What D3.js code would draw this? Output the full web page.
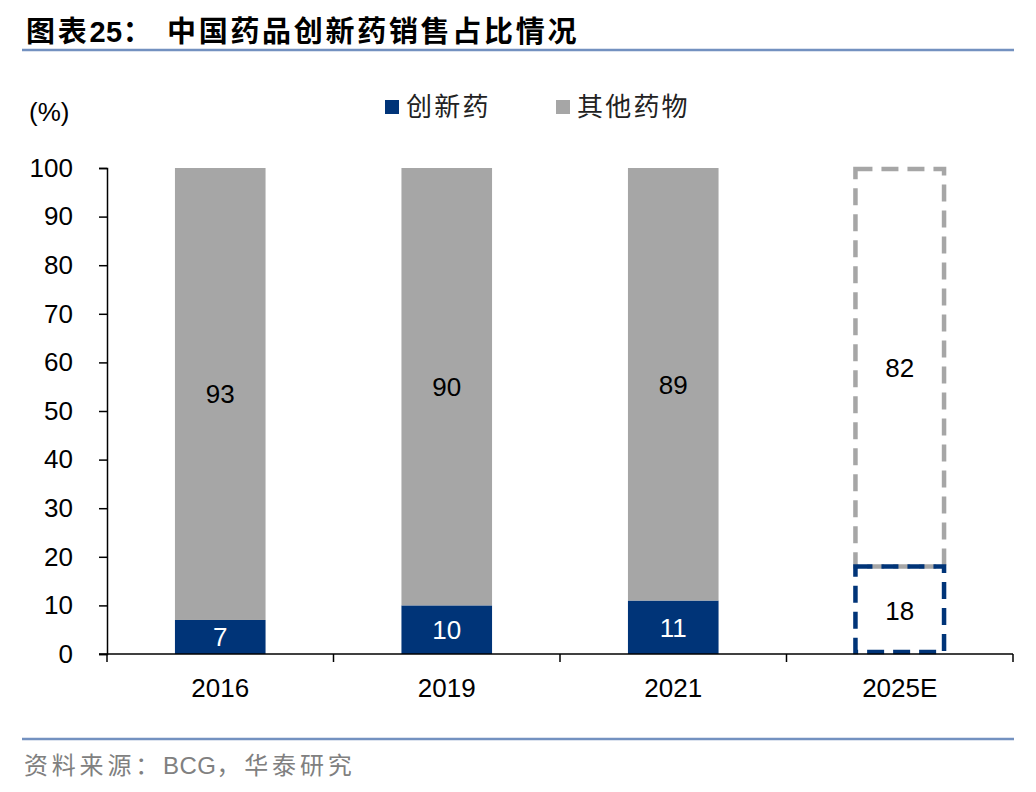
<!DOCTYPE html>
<html><head><meta charset="utf-8">
<script src="https://cdn.jsdelivr.net/npm/d3@7"></script>
<style>body{margin:0;background:#fff}svg{display:block}</style>
</head><body>
<svg id="c" width="1036" height="792"></svg>
<script>
const categories = ["2016", "2019", "2021", "2025E"];
const innovative = [7, 10, 11, 18];
const others = [93, 90, 89, 82];
const estimated = [false, false, false, true];
const yTicks = [0, 10, 20, 30, 40, 50, 60, 70, 80, 90, 100];
const seriesNames = ["创新药", "其他药物"];
const colors = ["#003478", "#a6a6a6"];

(function () {
const svg = d3.select("#c");
const pL = 107, pR = 1013, pT = 168, pB = 654;
const x = d3.scaleBand().domain(categories).range([pL, pR]).paddingInner(0.6).paddingOuter(0.3);
const xb = d3.scaleBand().domain(categories).range([pL, pR]);
const y = d3.scaleLinear().domain([0, 100]).range([pB, pT]);
const sans = "'Liberation Sans', Arial, sans-serif";
const cjk = "'Noto Sans CJK SC', sans-serif";
const fs = 26;

// title
const t = svg.append("text").attr("y", 42).attr("font-family", cjk).attr("font-weight", "bold")
  .attr("font-size", 29).attr("fill", "#000").attr("letter-spacing", 2.7);
t.append("tspan").attr("x", 26).text("图表");
t.append("tspan").attr("font-family", sans).attr("letter-spacing", 0.5).text("25");
t.append("tspan").text("：");
t.append("tspan").attr("x", 167).text("中国药品创新药销售占比情况");
svg.append("line").attr("x1", 22).attr("x2", 1014).attr("y1", 50).attr("y2", 50).attr("stroke", "#7391c0").attr("stroke-width", 2.5);

// unit
svg.append("text").attr("x", 29).attr("y", 121).attr("font-family", sans).attr("font-size", fs).text("(%)");

// legend
const lg = svg.append("g");
const lx = [385, 556];
seriesNames.forEach((n, i) => {
  lg.append("rect").attr("x", lx[i]).attr("y", 100).attr("width", 14).attr("height", 14).attr("fill", colors[i]);
  lg.append("text").attr("x", lx[i] + 21).attr("y", 116).attr("font-family", cjk).attr("font-size", 26)
    .attr("letter-spacing", 2.2).attr("fill", "#222").text(n);
});

// bars
const data = categories.map((c, i) => ({c, a: innovative[i], b: others[i], est: estimated[i]}));
const g = svg.append("g");
data.forEach(d => {
  const bx = x(d.c), bw = x.bandwidth();
  if (!d.est) {
    g.append("rect").attr("x", bx).attr("width", bw).attr("y", y(d.a)).attr("height", y(0) - y(d.a)).attr("fill", colors[0]);
    g.append("rect").attr("x", bx).attr("width", bw).attr("y", y(d.a + d.b)).attr("height", y(d.a) - y(d.a + d.b)).attr("fill", colors[1]);
  } else {
    g.append("rect").attr("x", bx + 1).attr("width", bw - 2).attr("y", y(d.a + d.b) + 1).attr("height", y(d.a) - y(d.a + d.b) - 1)
      .attr("fill", "none").attr("stroke", colors[1]).attr("stroke-width", 4.5).attr("stroke-dasharray", "17,9");
    g.append("rect").attr("x", bx + 1).attr("width", bw - 2).attr("y", y(d.a)).attr("height", y(0) - y(d.a) - 2)
      .attr("fill", "none").attr("stroke", colors[0]).attr("stroke-width", 4.5).attr("stroke-dasharray", "17,9");
  }
  g.append("text").attr("x", bx + bw / 2).attr("y", (y(0) + y(d.a)) / 2).attr("dy", "0.36em").attr("text-anchor", "middle")
    .attr("font-family", sans).attr("font-size", fs).attr("fill", d.est ? "#000" : "#fff").text(d.a);
  g.append("text").attr("x", bx + bw / 2).attr("y", (y(d.a) + y(d.a + d.b)) / 2).attr("dy", "0.36em").attr("text-anchor", "middle")
    .attr("font-family", sans).attr("font-size", fs).attr("fill", "#000").text(d.b);
});

// y axis
const ya = svg.append("g").attr("transform", `translate(${pL},0)`)
  .call(d3.axisLeft(y).tickValues(yTicks).tickSize(8).tickPadding(26));
ya.select(".domain").attr("stroke", "#000").attr("stroke-width", 1.5);
ya.selectAll(".tick line").attr("stroke", "#000").attr("stroke-width", 1.5);
ya.selectAll("text").attr("font-family", sans).attr("font-size", fs).attr("fill", "#000");

// x axis
const xa = svg.append("g").attr("transform", `translate(0,${pB})`);
xa.append("line").attr("x1", pL - 8).attr("x2", pR).attr("stroke", "#000").attr("stroke-width", 1.5);
const bounds = categories.map(c => xb(c)).concat([pR]);
xa.selectAll(".tk").data(bounds).enter().append("line").attr("x1", d => d).attr("x2", d => d)
  .attr("y1", 0).attr("y2", 8).attr("stroke", "#000").attr("stroke-width", 1.5);
xa.selectAll(".lb").data(categories).enter().append("text").attr("x", d => xb(d) + xb.bandwidth() / 2)
  .attr("y", 43).attr("text-anchor", "middle").attr("font-family", sans).attr("font-size", fs).attr("fill", "#000").text(d => d);

// footer
svg.append("line").attr("x1", 22).attr("x2", 1014).attr("y1", 739).attr("y2", 739).attr("stroke", "#7391c0").attr("stroke-width", 2.5);
const s = svg.append("text").attr("x", 24).attr("y", 774).attr("font-family", cjk).attr("font-size", 24)
  .attr("letter-spacing", 3.8).attr("fill", "#808080");
s.append("tspan").text("资料来源：");
s.append("tspan").attr("font-family", sans).attr("letter-spacing", 0.5).text("BCG");
s.append("tspan").text("，华泰研究");
})();
</script>
</body></html>
